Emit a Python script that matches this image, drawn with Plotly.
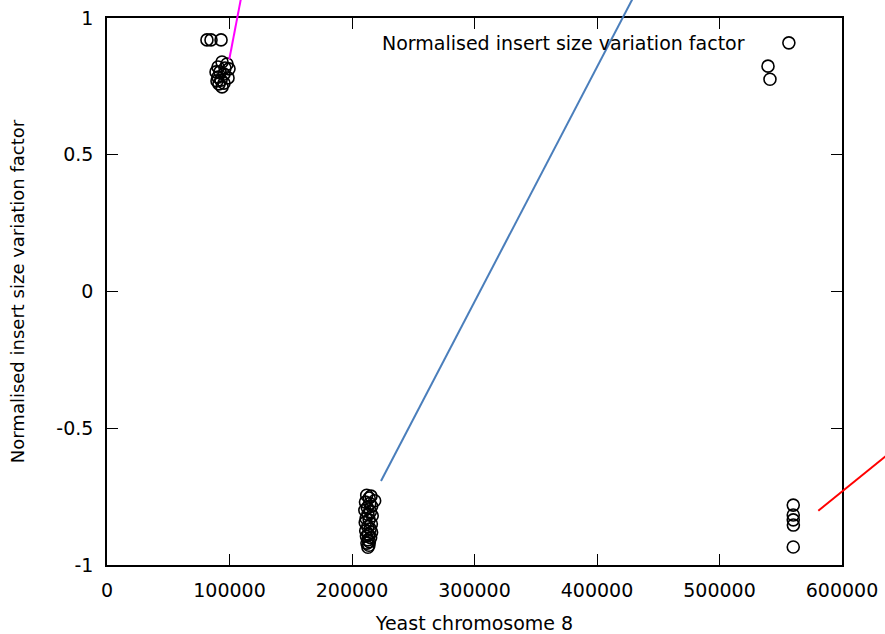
import plotly.graph_objects as go

# ---- data ----
series_name = "Normalised insert size variation factor"
x_title = "Yeast chromosome 8"
y_title = "Normalised insert size variation factor"

x_tick_vals = [0, 100000, 200000, 300000, 400000, 500000, 600000]
y_tick_vals = [-1, -0.5, 0, 0.5, 1]
y_tick_text = ["-1", "-0.5", "0", "0.5", "1"]

# cluster near 90 kb
x_c1 = [81600, 84900, 93100,
        93900, 98000, 90600, 96300, 99600, 92200, 89000, 95500,
        90600, 98800, 93100, 89800, 95500, 91400, 93900]
y_c1 = [0.920, 0.920, 0.920,
        0.839, 0.832, 0.821, 0.817, 0.814, 0.803, 0.803, 0.795,
        0.784, 0.781, 0.773, 0.770, 0.762, 0.759, 0.748]

# cluster near 213 kb
x_c2 = [212000, 215500, 214000, 218500, 211000, 214500, 216000, 212500,
        210500, 215000, 213000, 216500, 211500, 214000, 210800, 215800,
        212800, 214800, 211200, 216000, 213500, 211800, 215200, 213000,
        214200, 212200, 213800, 213000]
y_c2 = [-0.745, -0.748, -0.755, -0.765, -0.770, -0.775, -0.785, -0.790,
        -0.800, -0.805, -0.815, -0.820, -0.830, -0.835, -0.845, -0.850,
        -0.860, -0.868, -0.875, -0.880, -0.888, -0.895, -0.900, -0.908,
        -0.915, -0.920, -0.928, -0.935]

# clusters near 540-560 kb
x_c3 = [539600, 541200, 560200, 560200, 560200, 560300, 560200]
y_c3 = [0.824, 0.776, -0.781, -0.817, -0.835, -0.854, -0.934]

x_all = x_c1 + x_c2 + x_c3
y_all = y_c1 + y_c2 + y_c3

# pointer lines (data units: start -> end, extend past the frame)
line_colors = ["#ff00ff", "#4a7ebb", "#ff0000"]
line_x0 = [99840, 223674, 580650]
line_y0 = [0.849, -0.693, -0.8015]
line_x1 = [112245, 437060, 651440]
line_y1 = [1.139, 1.139, -0.5448]

X_RANGE = [0, 600000]
Y_RANGE = [-1, 1]

FONT = "DejaVu Sans"
FS = 19

fig = go.Figure()
fig.add_trace(go.Scatter(
    x=x_all, y=y_all, mode="markers", name=" ",
    marker=dict(symbol="circle-open", size=12, color="black",
                line=dict(color="black", width=1.6)),
    showlegend=True,
))

def px(v):
    return (v - X_RANGE[0]) / (X_RANGE[1] - X_RANGE[0])

def py(v):
    return (v - Y_RANGE[0]) / (Y_RANGE[1] - Y_RANGE[0])

for c, a, b, cc, d in zip(line_colors, line_x0, line_y0, line_x1, line_y1):
    fig.add_shape(type="line", xref="paper", yref="paper",
                  x0=px(a), y0=py(b), x1=px(cc), y1=py(d),
                  line=dict(color=c, width=2))

fig.add_annotation(text=series_name, xref="paper", yref="paper",
                   x=0.8707, y=0.9543, xanchor="right", yanchor="middle",
                   showarrow=False, font=dict(family=FONT, size=FS, color="black"))

axis_common = dict(showline=True, linecolor="black", linewidth=1.5, mirror="allticks",
                   ticks="inside", ticklen=11, tickwidth=1.3, tickcolor="black",
                   showgrid=False, zeroline=False, ticklabeloverflow="allow",
                   tickfont=dict(family=FONT, size=FS, color="black"))

fig.update_xaxes(range=X_RANGE, tickvals=x_tick_vals,
                 ticktext=[str(v) for v in x_tick_vals],
                 ticklabelstandoff=7,
                 title=dict(text=x_title, font=dict(family=FONT, size=FS, color="black"),
                            standoff=33),
                 **axis_common)
fig.update_yaxes(range=Y_RANGE, tickvals=y_tick_vals, ticktext=y_tick_text,
                 ticklabelstandoff=8,
                 title=dict(text=y_title, font=dict(family=FONT, size=18, color="black"),
                            standoff=27),
                 **axis_common)

fig.update_layout(
    width=885, height=634,
    margin=dict(l=107, r=43, t=18, b=69, autoexpand=False),
    paper_bgcolor="white", plot_bgcolor="white",
    font=dict(family=FONT, size=FS, color="black"),
    hovermode=False,
    legend=dict(x=0.9005, y=0.9543, xanchor="left", yanchor="middle",
                bgcolor="rgba(0,0,0,0)", borderwidth=0,
                font=dict(family=FONT, size=FS)),
)

fig.write_html("out.html",
               config={"displayModeBar": False},
               post_script="document.body.style.margin='0';document.body.style.overflow='hidden';")
